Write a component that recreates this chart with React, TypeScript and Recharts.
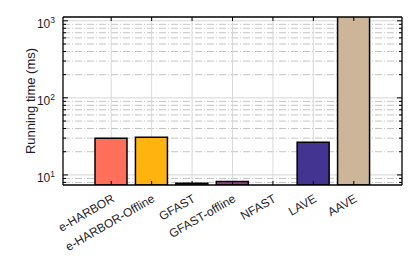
import { BarChart, Bar, Cell, CartesianGrid, XAxis, YAxis } from 'recharts';

const categories = ['e-HARBOR', 'e-HARBOR-Offline', 'GFAST', 'GFAST-offline', 'NFAST', 'LAVE', 'AAVE'];
const runningTimeMs = [30.0, 30.9, 7.8, 8.2, null, 26.6, 1200];
const barColors = ['#FF6F59', '#FFB30F', '#5BB84A', '#973F8E', '#3FA9C9', '#433492', '#CDB599'];

const yTicks = [
  8, 9, 10, 20, 30, 40, 50, 60, 70, 80, 90,
  100, 200, 300, 400, 500, 600, 700, 800, 900, 1000,
];
const majorTicks = [10, 100, 1000];

const data = categories.map((name, i) => ({ name, value: runningTimeMs[i] }));

const FONT = '"Liberation Sans", Arial, Helvetica, sans-serif';
const TEXT = '#1c1c2a';
const DOMAIN: [number, number] = [7.4, 1120];
const XPAD = { left: 28, right: 28 };

const HLine = (props: any) => {
  const { x1, x2, y1, index } = props;
  const v = yTicks[index];
  if (v === undefined) return <g key={`h-${index}`} />;
  const major = majorTicks.includes(v);
  const len = major ? 5 : 3;
  return (
    <g key={`h-${index}`}>
      <line
        x1={x1} x2={x2} y1={y1} y2={y1}
        stroke={major ? '#d4d4d4' : '#c4c4c4'}
        strokeWidth={1}
        strokeDasharray={major ? undefined : '7 2 1 2'}
      />
      <line x1={x1} x2={x1 + len} y1={y1} y2={y1} stroke="#000" strokeWidth={1} />
      <line x1={x2 - len} x2={x2} y1={y1} y2={y1} stroke="#000" strokeWidth={1} />
    </g>
  );
};

const VLine = (props: any) => {
  const { x1, y1, y2, index } = props;
  if (index >= categories.length) return <g key={`v-${index}`} />;
  return <line key={`v-${index}`} x1={x1} x2={x1} y1={y1} y2={y2} stroke="#d9d9d9" strokeWidth={1} />;
};

const BottomTick = ({ x, y, payload }: any) => (
  <g>
    <line x1={x} x2={x} y1={y} y2={y - 4} stroke="#000" strokeWidth={1} />
    <text
      x={x + 4}
      y={y + 16}
      textAnchor="end"
      transform={`rotate(-30, ${x + 4}, ${y + 16})`}
      fontSize={12}
      fontFamily={FONT}
      fill={TEXT}
    >
      {payload.value}
    </text>
  </g>
);

const TopTick = ({ x, y }: any) => (
  <line x1={x} x2={x} y1={y} y2={y + 4} stroke="#000" strokeWidth={1} />
);

const YTick = ({ x, y, payload }: any) => {
  const v = payload.value;
  if (!majorTicks.includes(v)) return <g />;
  const exp = Math.round(Math.log10(v));
  return (
    <text x={x} y={y + 7.5} textAnchor="end" fontFamily={FONT} fill={TEXT} fontSize={12}>
      <tspan>10</tspan>
      <tspan dy={-5.5} fontSize={8.5}>{exp}</tspan>
    </text>
  );
};

export default function App() {
  return (
    <div style={{ position: 'absolute', left: 0, top: 0, width: 414, height: 256, background: '#fff' }}>
      <BarChart
        width={414}
        height={256}
        data={data}
        margin={{ top: 16, right: 11, bottom: 11, left: 0 }}
        barSize={32}
      >
        <CartesianGrid horizontal={HLine} vertical={VLine} />
        <Bar dataKey="value" stroke="#000" strokeWidth={1.5} isAnimationActive={false}>
          {data.map((d, i) => (
            <Cell key={d.name} fill={barColors[i]} />
          ))}
        </Bar>
        <XAxis
          dataKey="name"
          interval={0}
          padding={XPAD}
          height={60}
          tickSize={0}
          tickMargin={0}
          tickLine={false}
          tick={<BottomTick />}
          axisLine={{ stroke: '#000', strokeWidth: 1.3 }}
        />
        <XAxis
          xAxisId="top"
          orientation="top"
          dataKey="name"
          interval={0}
          padding={XPAD}
          height={1}
          tickSize={0}
          tickMargin={0}
          tickLine={false}
          tick={<TopTick />}
          axisLine={{ stroke: '#000', strokeWidth: 1.3 }}
        />
        <YAxis
          scale="log"
          domain={DOMAIN}
          allowDataOverflow
          ticks={yTicks}
          interval={0}
          width={63}
          tickSize={0}
          tickMargin={8}
          tickLine={false}
          tick={<YTick />}
          axisLine={{ stroke: '#000', strokeWidth: 1.3 }}
          label={{
            value: 'Running time (ms)',
            angle: -90,
            position: 'center',
            fontSize: 13,
            fontFamily: FONT,
            fill: TEXT,
            dx: -1,
          }}
        />
        <YAxis
          yAxisId="right"
          orientation="right"
          scale="log"
          domain={DOMAIN}
          allowDataOverflow
          width={1}
          tick={false}
          tickLine={false}
          axisLine={{ stroke: '#000', strokeWidth: 1.3 }}
        />
      </BarChart>
    </div>
  );
}
